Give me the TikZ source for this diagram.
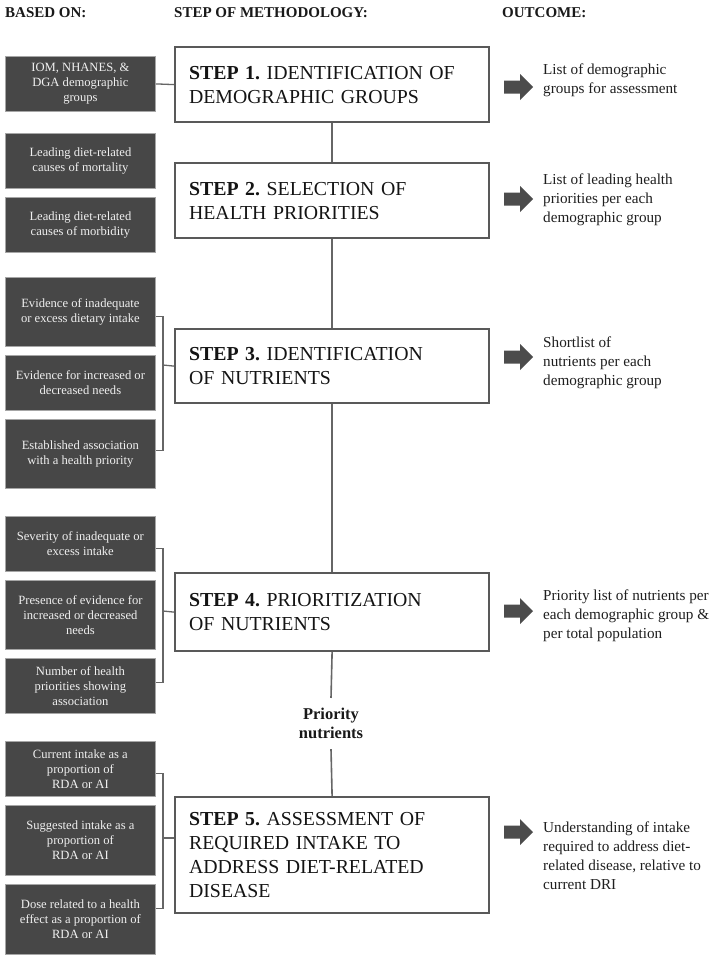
\documentclass[tikz,border=0pt]{standalone}
\usepackage{fontspec}
\setmainfont{Liberation Serif}
\frenchspacing
\begin{document}
\begin{tikzpicture}[x=1pt,y=-1pt,
  basis/.style={draw=black!35, line width=0.8pt, fill=black!72, text=black!6,
    font=\fontsize{12.6}{15.2}\selectfont, align=center, minimum width=150pt,
    inner sep=0pt, anchor=north west},
  stepbox/.style={draw=black!65, line width=2.2pt, fill=white, inner xsep=14pt,
    inner ysep=0pt, text width=286pt, align=left, anchor=north west,
    font=\fontsize{19.8}{24}\selectfont, text=black!92},
  outcome/.style={font=\fontsize{15.2}{18.7}\selectfont, align=left,
    anchor=north west, inner sep=0pt, text=black!88},
  header/.style={font=\fontsize{15}{18}\selectfont\bfseries, anchor=base west,
    inner sep=0pt, text=black!90},
  mainline/.style={draw=black!60, line width=1.6pt},
  bracket/.style={draw=black!60, line width=1.3pt},
  pics/blockarrow/.style={code={
    \fill[black!70] (0,-6.5) -- (16,-6.5) -- (16,-13) -- (29,0) -- (16,13)
      -- (16,6.5) -- (0,6.5) -- cycle;}}
]
\fill[white] (0,0) rectangle (716,961);
\useasboundingbox (0,0) rectangle (716,961);

% headers
\node[header] (h1) at (5,17) {BASED ON:};
\node[header] (h2) at (174,17) {STEP OF METHODOLOGY:};
\node[header] (h3) at (502,17) {OUTCOME:};

% based-on boxes
\node[basis, minimum height=55pt] (b1) at (5,56) {IOM, NHANES, \&\\DGA demographic\\groups};
\node[basis, minimum height=55pt] (b2) at (5,133) {Leading diet-related\\causes of mortality};
\node[basis, minimum height=55pt] (b3) at (5,197) {Leading diet-related\\causes of morbidity};
\node[basis, minimum height=69pt] (b4) at (5,277) {Evidence of inadequate\\or excess dietary intake};
\node[basis, minimum height=55pt] (b5) at (5,355) {Evidence for increased or\\decreased needs};
\node[basis, minimum height=69pt] (b6) at (5,419) {Established association\\with a health priority};
\node[basis, minimum height=55pt] (b7) at (5,516) {Severity of inadequate or\\excess intake};
\node[basis, minimum height=69pt] (b8) at (5,580) {Presence of evidence for\\increased or decreased\\needs};
\node[basis, minimum height=55pt] (b9) at (5,658) {Number of health\\priorities showing\\association};
\node[basis, minimum height=55pt] (b10) at (5,741) {Current intake as a\\proportion of\\RDA or AI};
\node[basis, minimum height=70pt] (b11) at (5,805) {Suggested intake as a\\proportion of\\RDA or AI};
\node[basis, minimum height=70pt] (b12) at (5,884) {Dose related to a health\\effect as a proportion of\\RDA or AI};

% step boxes
\node[stepbox, minimum height=75pt] (s1) at (174,46) {\textbf{STEP 1.} IDENTIFICATION OF\\DEMOGRAPHIC GROUPS};
\node[stepbox, minimum height=75pt] (s2) at (174,162) {\textbf{STEP 2.} SELECTION OF\\HEALTH PRIORITIES};
\node[stepbox, minimum height=74pt] (s3) at (174,328) {\textbf{STEP 3.} IDENTIFICATION\\OF NUTRIENTS};
\node[stepbox, minimum height=78pt] (s4) at (174,572) {\textbf{STEP 4.} PRIORITIZATION\\OF NUTRIENTS};
\node[stepbox, minimum height=116pt] (s5) at (174,796) {\textbf{STEP 5.} ASSESSMENT OF\\REQUIRED INTAKE TO\\ADDRESS DIET-RELATED\\DISEASE};

\node[font=\fontsize{16.5}{19}\selectfont\bfseries, align=center, inner xsep=0pt,
  inner ysep=10pt, text=black!90] (pri) at (331,723.5) {Priority\\nutrients};

% main vertical line
\draw[mainline] (s1.south) -- (s2.north);
\draw[mainline] (s2.south) -- (s3.north);
\draw[mainline] (s3.south) -- (s4.north);
\draw[mainline] (s4.south) -- (pri.north);
\draw[mainline] (pri.south) -- (s5.north);

% connectors from based-on boxes
\draw[bracket] (b1.east) -- (s1.west);
\coordinate (br3) at (163,365);
\coordinate (br4) at (163,611);
\coordinate (br5) at (163,838);
\draw[bracket] ([yshift=-4.5pt]b4.east) -| (br3) |- ([yshift=3.5pt]b6.east);
\draw[bracket] (br3) -- (s3.west);
\draw[bracket] ([yshift=-4.5pt]b7.east) -| (br4) |- ([yshift=3.5pt]b9.east);
\draw[bracket] (br4) -- (s4.west);
\draw[bracket] ([yshift=-4.5pt]b10.east) -| (br5) |- ([yshift=11pt]b12.east);
\draw[bracket] (br5) -- (s5.west |- br5);

% outcome arrows
\pic at (504,87) {blockarrow};
\pic at (504,199) {blockarrow};
\pic at (504,357) {blockarrow};
\pic at (504,611) {blockarrow};
\pic at (504,832) {blockarrow};

% outcomes
\node[outcome] (o1) at (543,64) {List of demographic\\groups for assessment};
\node[outcome] (o2) at (543,174) {List of leading health\\priorities per each\\demographic group};
\node[outcome] (o3) at (543,337) {Shortlist of\\nutrients per each\\demographic group};
\node[outcome] (o4) at (543,590) {Priority list of nutrients per\\each demographic group \&\\per total population};
\node[outcome] (o5) at (543,822) {Understanding of intake\\required to address diet-\\related disease, relative to\\current DRI};
\end{tikzpicture}
\end{document}
